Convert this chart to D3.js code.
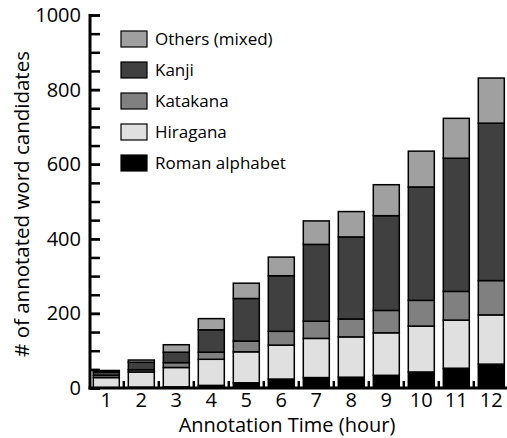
<!DOCTYPE html>
<html>
<head>
<meta charset="utf-8">
<script src="https://cdn.jsdelivr.net/npm/d3@7"></script>
<style>
  body { margin: 0; background: #fff; }
  text { font-family: "Open Sans", sans-serif; fill: #000; }
</style>
</head>
<body>
<svg id="chart" width="507" height="438"></svg>
<script>
// hours of annotation
var hours = [1, 2, 3, 4, 5, 6, 7, 8, 9, 10, 11, 12];

// word candidates per script type, stacked bottom to top
var roman    = [1, 2, 3, 7, 14, 24, 28, 29, 34, 43, 53, 64];
var hiragana = [27, 41, 52, 70, 83, 91, 105, 108, 114, 123, 129, 132];
var katakana = [6, 6, 13, 19, 29, 37, 46, 48, 60, 69, 77, 92];
var kanji    = [9, 20, 28, 60, 114, 149, 206, 220, 254, 304, 357, 422];
var others   = [4, 6, 20, 30, 41, 50, 63, 68, 83, 96, 107, 121];

var seriesNames = ["Roman alphabet", "Hiragana", "Katakana", "Kanji", "Others (mixed)"];
var seriesColors = ["#000000", "#e0e0e0", "#808080", "#404040", "#a0a0a0"];
var yTicks = [0, 200, 400, 600, 800, 1000];

var svg = d3.select("#chart");

var rows = hours.map(function(h, i) {
  return { hour: h, "Roman alphabet": roman[i], "Hiragana": hiragana[i],
    "Katakana": katakana[i], "Kanji": kanji[i], "Others (mixed)": others[i] };
});
var stacked = d3.stack().keys(seriesNames)(rows);

var x = d3.scaleBand()
  .domain(hours)
  .range([88.8, 508.8])
  .paddingInner(9 / 35)
  .paddingOuter(9 / 70);

var y = d3.scaleLinear()
  .domain([0, 1000])
  .range([388, 15]);

var color = d3.scaleOrdinal().domain(seriesNames).range(seriesColors);

// bars
svg.append("g").selectAll("g")
  .data(stacked).enter().append("g")
  .attr("fill", function(d) { return color(d.key); })
  .selectAll("rect")
  .data(function(d) { return d; }).enter().append("rect")
  .attr("x", function(d) { return x(d.data.hour); })
  .attr("width", x.bandwidth())
  .attr("y", function(d) { return y(d[1]); })
  .attr("height", function(d) { return y(d[0]) - y(d[1]); })
  .attr("stroke", "#000")
  .attr("stroke-width", 1.5);

// y axis: minor ticks every 50, major with labels
var yMinor = d3.axisLeft(y).tickValues(d3.range(0, 1001, 50)).tickSize(-10).tickFormat("");
var gMinor = svg.append("g").attr("transform", "translate(90,0)").call(yMinor);
gMinor.select(".domain").remove();
gMinor.selectAll("line").attr("stroke-width", 2.5);

var yAxis = d3.axisLeft(y).tickValues(yTicks).tickSize(-10).tickPadding(9).tickFormat(d3.format("d"));
var gy = svg.append("g").attr("transform", "translate(90,0)").call(yAxis);
gy.select(".domain").remove();
gy.selectAll("line").attr("stroke-width", 2.5);
gy.selectAll("text").attr("font-size", 20).attr("font-family", "Open Sans");

svg.append("line")
  .attr("x1", 90).attr("x2", 90)
  .attr("y1", y(1000) - 1).attr("y2", y(0) + 1.5)
  .attr("stroke", "#000").attr("stroke-width", 3);

// x axis
var xAxis = d3.axisBottom(x).tickSize(0).tickPadding(5);
var gx = svg.append("g").attr("transform", "translate(0," + y(0) + ")").call(xAxis);
gx.select(".domain").remove();
gx.selectAll("text").attr("font-size", 20).attr("font-family", "Open Sans");

svg.append("line")
  .attr("x1", 88.5).attr("x2", 507)
  .attr("y1", y(0)).attr("y2", y(0))
  .attr("stroke", "#000").attr("stroke-width", 3);

// little ticks between bars
var step = x.step();
svg.append("g").selectAll("line")
  .data(hours.slice(0, -1)).enter().append("line")
  .attr("x1", function(d) { return x(d) + x.bandwidth() + (step - x.bandwidth()) / 2; })
  .attr("x2", function(d) { return x(d) + x.bandwidth() + (step - x.bandwidth()) / 2; })
  .attr("y1", y(0)).attr("y2", y(0) - 7)
  .attr("stroke", "#000").attr("stroke-width", 2.5);

// axis titles
svg.append("text")
  .attr("x", 287).attr("y", 432)
  .attr("text-anchor", "middle")
  .attr("font-size", 20)
  .text("Annotation Time (hour)");

svg.append("text")
  .attr("transform", "translate(29,204) rotate(-90)")
  .attr("text-anchor", "middle")
  .attr("font-size", 20.5)
  .text("# of annotated word candidates");

// legend, top item first
var legendItems = seriesNames.slice().reverse();
var legend = svg.append("g").selectAll("g")
  .data(legendItems).enter().append("g")
  .attr("transform", function(d, i) { return "translate(121," + (31 + i * 31) + ")"; });

legend.append("rect")
  .attr("width", 26).attr("height", 16)
  .attr("fill", function(d) { return color(d); })
  .attr("stroke", "#000").attr("stroke-width", 1.2);

legend.append("text")
  .attr("x", 34).attr("y", 14)
  .attr("font-size", 17)
  .text(function(d) { return d; });
</script>
</body>
</html>
